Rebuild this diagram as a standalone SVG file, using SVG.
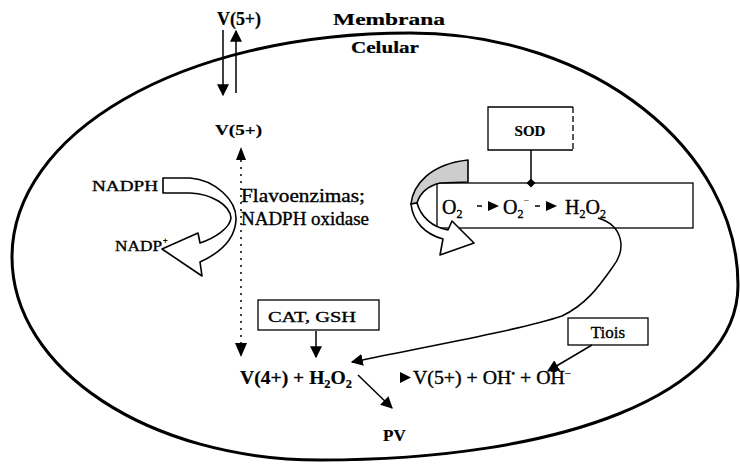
<svg xmlns="http://www.w3.org/2000/svg" width="740" height="464" viewBox="0 0 740 464">
<defs>
<marker id="ahb" viewBox="0 0 10 10" refX="9" refY="5" markerWidth="12" markerHeight="12" markerUnits="userSpaceOnUse" orient="auto"><path d="M0,0 L10,5 L0,10 Z" fill="#000"/></marker>
<marker id="dm" viewBox="0 0 10 10" refX="5" refY="5" markerWidth="9" markerHeight="9" markerUnits="userSpaceOnUse" orient="auto"><path d="M5,0 L10,5 L5,10 L0,5 Z" fill="#000"/></marker>
<style>
text{font-family:"Liberation Serif","Times New Roman",serif;fill:#000;stroke:#000;stroke-width:0.35}
.b{font-weight:bold;stroke-width:0.2}
.box{fill:#fff;stroke:#000;stroke-width:1.3}
.ln{fill:none;stroke:#000;stroke-width:1.5}
.dot{fill:none;stroke:#000;stroke-width:1.5;stroke-dasharray:2 5}
.rib{fill:#fff;stroke:#000;stroke-width:1.6;stroke-linejoin:round}
</style>
</defs>
<rect width="740" height="464" fill="#fff"/>
<g id="membrane">
<path d="M12,257 C12,135 178,33 410,33 C595,33 738,151 738,285 C738,395 560,460 320,460 C150,460 12,370 12,257 Z" fill="none" stroke="#000" stroke-width="3"/>
<text class="b" x="333" y="25" font-size="17" textLength="112" lengthAdjust="spacingAndGlyphs">Membrana</text>
<text class="b" x="351" y="53" font-size="17" textLength="68" lengthAdjust="spacingAndGlyphs">Celular</text>
</g>
<g id="v5-out"><text class="b" x="217" y="25" font-size="18" textLength="44" lengthAdjust="spacingAndGlyphs">V(5+)</text></g>
<g id="v5-in"><text class="b" x="215" y="135" font-size="15" textLength="47" lengthAdjust="spacingAndGlyphs">V(5+)</text></g>
<g id="nadph">
<text x="92" y="191" font-size="15" textLength="66" lengthAdjust="spacingAndGlyphs">NADPH</text>
<text x="115" y="251" font-size="15" textLength="47" lengthAdjust="spacingAndGlyphs">NADP</text>
<text x="163" y="243" font-size="8" stroke-width="0">+</text>
<path class="rib" d="M163,178 L190,178 C215,180 237,200 236,220 C235,238 222,252 200,262 L202,276 L162,249 L198,233 L200,243 C215,238 230,228 231,218 C230,205 212,194 190,193 L163,193 Z"/>
</g>
<g id="flavo">
<text x="241" y="202" font-size="18" textLength="124" lengthAdjust="spacingAndGlyphs">Flavoenzimas;</text>
<text x="241" y="225" font-size="18" textLength="128" lengthAdjust="spacingAndGlyphs">NADPH oxidase</text>
</g>
<g id="sod">
<path d="M573,107 L488,107 L488,150 L573,150" class="box"/>
<line x1="573" y1="107" x2="573" y2="150" stroke="#000" stroke-width="1.3" stroke-dasharray="6 3"/>
<text class="b" x="530" y="136" font-size="15" text-anchor="middle">SOD</text>
</g>
<g id="o2box">
<rect class="box" x="437" y="183" width="256" height="45"/>
<text x="442" y="214" font-size="20">O<tspan font-size="12" dy="4">2</tspan></text>
<text x="503" y="214" font-size="20">O<tspan font-size="12" dy="4">2</tspan><tspan font-size="10" dy="-14" stroke-width="0">−</tspan></text>
<text x="565" y="214" font-size="20">H<tspan font-size="12" dy="4">2</tspan><tspan dy="-4">O</tspan><tspan font-size="12" dy="4">2</tspan></text>
</g>
<g id="ribbon">
<path d="M468,160 L468,182 L440,183 C428,186 420,193 417,203 L411,204 C413,185 430,164 468,160 Z" fill="#cdcdcd" stroke="#000" stroke-width="1.6" stroke-linejoin="round"/>
<path class="rib" d="M411,204 C413,222 425,234 443,239 L440,255 L474,243 L452,221 L448,230 C432,227 421,217 417,203 Z"/>
</g>
<g id="catgsh">
<rect class="box" x="258" y="300" width="121" height="30"/>
<text x="268" y="322" font-size="15" textLength="88" lengthAdjust="spacingAndGlyphs">CAT, GSH</text>
</g>
<g id="tiois">
<rect class="box" x="568" y="318" width="80" height="27"/>
<text x="608" y="338" font-size="17" text-anchor="middle">Tiois</text>
</g>
<g id="reaction">
<text class="b" x="240" y="384" font-size="19" textLength="112" lengthAdjust="spacingAndGlyphs">V(4+)  +  H<tspan font-size="12" dy="4">2</tspan><tspan dy="-4">O</tspan><tspan font-size="12" dy="4">2</tspan></text>
<text x="413" y="384" font-size="18" textLength="158" lengthAdjust="spacingAndGlyphs">V(5+) + OH<tspan font-size="10" dy="-7">•</tspan><tspan dy="7"> + OH</tspan><tspan font-size="10" dy="-7">−</tspan></text>
<text class="b" x="383" y="441" font-size="17">PV</text>
</g>
<g id="connectors">
<line class="ln" x1="223" y1="30" x2="223" y2="95" marker-end="url(#ahb)"/>
<line class="ln" x1="236" y1="93" x2="236" y2="31" marker-end="url(#ahb)"/>
<line class="dot" x1="241" y1="160" x2="241" y2="345"/>
<path d="M241,147 L236,160 L246,160 Z" fill="#000"/>
<path d="M241,357 L235,343 L247,343 Z" fill="#000"/>
<line class="ln" x1="531" y1="150" x2="531" y2="183" marker-end="url(#dm)"/>
<line class="ln" x1="477" y1="206" x2="482" y2="206"/>
<path d="M488,201 L499,206 L488,211 Z" fill="#000"/>
<line class="ln" x1="535" y1="206" x2="540" y2="206"/>
<path d="M546,201 L557,206 L546,211 Z" fill="#000"/>
<path class="ln" d="M598,218 C622,225 628,248 612,268 C598,288 585,305 562,316 C520,330 420,348 352,362" marker-end="url(#ahb)" stroke-width="1.3"/>
<line class="ln" x1="316" y1="331" x2="316" y2="357" marker-end="url(#ahb)"/>
<line class="ln" x1="358" y1="375" x2="392" y2="408" marker-end="url(#ahb)" stroke-width="2"/>
<path d="M400,372 L411,377.5 L400,383 Z" fill="#000"/>
<line class="ln" x1="592" y1="345" x2="548" y2="371" marker-end="url(#ahb)" stroke-width="2"/>
</g>
</svg>
